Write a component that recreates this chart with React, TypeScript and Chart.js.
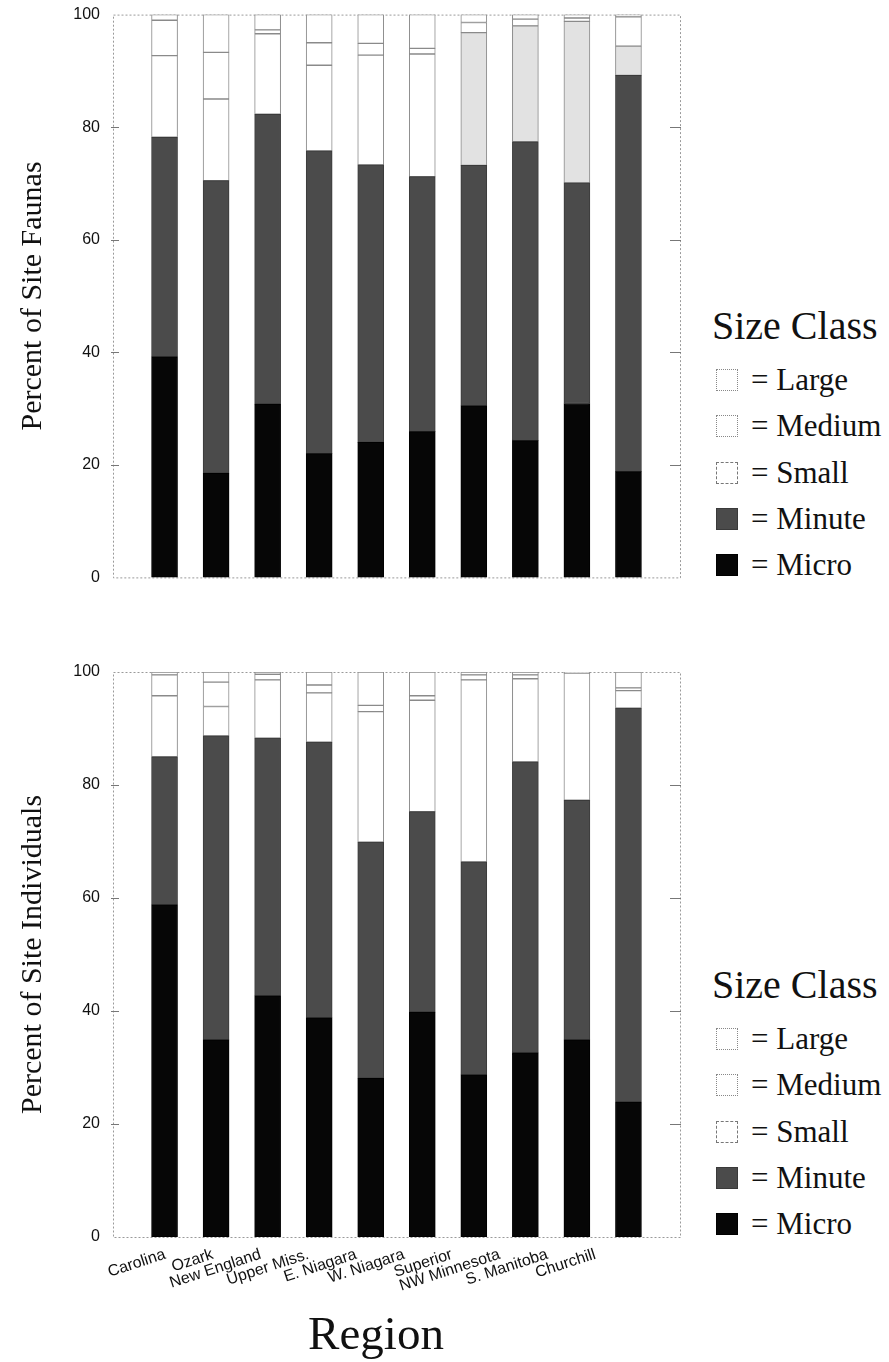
import React, { useEffect, useRef } from 'react';
import { Chart, registerables } from 'chart.js';

Chart.register(...registerables);

// ---- data ----
const regions = ['Carolina', 'Ozark', 'New England', 'Upper Miss.', 'E. Niagara', 'W. Niagara', 'Superior', 'NW Minnesota', 'S. Manitoba', 'Churchill'];
const yTicks = [0, 20, 40, 60, 80, 100];

// Percent of Site Faunas
const faunaMicro = [39.2, 18.5, 30.8, 22.0, 24.0, 25.9, 30.5, 24.3, 30.9, 18.8];
const faunaMinute = [39.0, 52.0, 51.5, 53.8, 49.3, 45.3, 42.7, 53.1, 39.2, 70.4];
const faunaSmall = [14.5, 14.5, 14.3, 15.2, 19.5, 21.8, 23.6, 20.6, 28.7, 5.2];
const faunaMedium = [6.3, 8.3, 0.7, 4.0, 2.1, 1.0, 1.8, 1.2, 0.6, 5.2];
const faunaLarge = [1.0, 6.7, 2.7, 5.0, 5.1, 6.0, 1.4, 0.8, 0.6, 0.4];

// Percent of Site Individuals
const indivMicro = [58.8, 34.9, 42.7, 38.8, 28.1, 39.8, 28.7, 32.6, 34.9, 23.9];
const indivMinute = [26.2, 53.8, 45.6, 48.8, 41.8, 35.5, 37.7, 51.5, 42.4, 69.7];
const indivSmall = [10.8, 5.2, 10.3, 8.7, 23.1, 19.7, 32.2, 14.7, 22.5, 3.1];
const indivMedium = [3.7, 4.3, 1.0, 1.4, 1.1, 0.8, 0.9, 0.7, 0.1, 0.5];
const indivLarge = [0.5, 1.8, 0.4, 2.3, 5.9, 4.2, 0.5, 0.5, 0.1, 2.8];

// ---- styles ----
const SERIF = '"Liberation Serif", "Times New Roman", serif';
const SANS = '"Liberation Sans", Arial, sans-serif';
const faunaSmallFill = ['#fff', '#fff', '#fff', '#fff', '#fff', '#fff', '#e2e2e2', '#e2e2e2', '#e2e2e2', '#e2e2e2'];
const indivSmallFill = ['#fff', '#fff', '#fff', '#fff', '#fff', '#fff', '#fff', '#fff', '#fff', '#fff'];

const framePlugin = {
  id: 'frame',
  beforeDatasetsDraw(chart: any) {
    const { ctx, chartArea } = chart;
    const { left, right, top, bottom } = chartArea;
    const y = chart.scales.y;
    ctx.save();
    ctx.strokeStyle = '#9a9a9a';
    ctx.lineWidth = 1;
    ctx.setLineDash([2, 2]);
    ctx.beginPath();
    ctx.moveTo(left + 0.5, top + 0.5);
    ctx.lineTo(right + 0.5, top + 0.5);
    ctx.lineTo(right + 0.5, bottom + 0.5);
    ctx.lineTo(left + 0.5, bottom + 0.5);
    ctx.closePath();
    ctx.stroke();
    ctx.setLineDash([]);
    ctx.strokeStyle = '#777';
    yTicks.forEach((t) => {
      if (t === 0 || t === 100) return;
      const py = Math.round(y.getPixelForValue(t)) + 0.5;
      ctx.beginPath();
      ctx.moveTo(left - 2, py);
      ctx.lineTo(left + 6, py);
      ctx.moveTo(right - 10, py);
      ctx.lineTo(right + 1, py);
      ctx.stroke();
    });
    ctx.restore();
  },
};

type ChartProps = {
  micro: number[];
  minute: number[];
  small: number[];
  medium: number[];
  large: number[];
  smallFill: string[];
  yTitle: string;
  showX: boolean;
  top: number;
  height: number;
  padTop: number;
  xHeight: number;
};

function StackedChart(p: ChartProps) {
  const ref = useRef<HTMLCanvasElement>(null);
  useEffect(() => {
    const labels = ['', ...regions, ''];
    const pad = (a: any[]) => [null, ...a, null];
    const scales: any = {
      x: {
        stacked: true,
        offset: false,
        grid: { display: false, drawTicks: false, offset: false },
        border: { display: false },
        ticks: { display: false },
        afterFit: (s: any) => {
          s.height = p.showX ? 0 : p.xHeight;
        },
      },
      y: {
        stacked: true,
        min: 0,
        max: 100,
        grid: { display: false, drawTicks: false },
        border: { display: false },
        ticks: { stepSize: 20, padding: 13, color: '#111', font: { family: SANS, size: 16 } },
        title: {
          display: true,
          text: p.yTitle,
          color: '#111',
          font: { family: SERIF, size: 30 },
          padding: { top: 15, bottom: 0 },
        },
        afterFit: (s: any) => {
          s.width = 113;
        },
      },
    };
    if (p.showX) {
      // label axis: region names sit slightly left of the bars, as in the original print
      scales.xl = {
        type: 'linear',
        position: 'bottom',
        offset: false,
        min: -0.088,
        max: 11.774,
        grid: { display: false, drawTicks: false, offset: false },
        border: { display: false },
        afterBuildTicks: (s: any) => {
          s.ticks = regions.map((_, i) => ({ value: i + 1 }));
        },
        ticks: {
          autoSkip: false,
          minRotation: 18,
          maxRotation: 18,
          padding: 8,
          color: '#111',
          font: { family: SANS, size: 16 },
          callback: (_v: any, i: number) => regions[i],
        },
        afterFit: (s: any) => {
          s.height = p.xHeight;
        },
      };
    }
    const chart = new Chart(ref.current as HTMLCanvasElement, {
      type: 'bar',
      data: {
        labels,
        datasets: [
          { label: 'Micro', data: pad(p.micro), backgroundColor: '#060606', borderColor: '#000' },
          { label: 'Minute', data: pad(p.minute), backgroundColor: '#4b4b4b', borderColor: '#3a3a3a' },
          { label: 'Small', data: pad(p.small), backgroundColor: pad(p.smallFill), borderColor: '#8a8a8a' },
          { label: 'Medium', data: pad(p.medium), backgroundColor: '#ffffff', borderColor: '#8a8a8a' },
          { label: 'Large', data: pad(p.large), backgroundColor: '#ffffff', borderColor: '#8a8a8a' },
        ] as any,
      },
      options: {
        responsive: false,
        animation: false,
        layout: { padding: { top: p.padTop, right: 20, left: 0, bottom: 0 } },
        plugins: { legend: { display: false }, tooltip: { enabled: false } },
        datasets: { bar: { barThickness: 26, borderWidth: 1, borderSkipped: false } } as any,
        scales,
      },
      plugins: [framePlugin],
    });
    return () => chart.destroy();
  }, []);
  return (
    <canvas
      ref={ref}
      width={700}
      height={p.height}
      style={{ position: 'absolute', left: 0, top: p.top, width: 700, height: p.height }}
    />
  );
}

const legendItems = [
  { label: 'Large', box: { background: '#fff', border: '1px dotted #888' } },
  { label: 'Medium', box: { background: '#fff', border: '1px dotted #888' } },
  { label: 'Small', box: { background: '#fff', border: '1px dashed #777' } },
  { label: 'Minute', box: { background: '#4b4b4b', border: '1px solid #3a3a3a' } },
  { label: 'Micro', box: { background: '#060606', border: '1px solid #000' } },
];

function Legend({ titleY }: { titleY: number }) {
  return (
    <div style={{ position: 'absolute', left: 0, top: 0, fontFamily: SERIF, color: '#111' }}>
      <div
        style={{
          position: 'absolute',
          left: 712,
          top: titleY - 24,
          height: 48,
          lineHeight: '48px',
          fontSize: 40,
          whiteSpace: 'nowrap',
        }}
      >
        Size Class
      </div>
      {legendItems.map((it, i) => {
        const cy = titleY + 54 + i * 46.3;
        return (
          <div
            key={it.label}
            style={{
              position: 'absolute',
              left: 716,
              top: cy - 20,
              height: 40,
              display: 'flex',
              alignItems: 'center',
              whiteSpace: 'nowrap',
            }}
          >
            <span style={{ display: 'inline-block', width: 22, height: 22, boxSizing: 'border-box', ...it.box }} />
            <span style={{ fontSize: 31, marginLeft: 13, lineHeight: '40px' }}>= {it.label}</span>
          </div>
        );
      })}
    </div>
  );
}

export default function App() {
  return (
    <div style={{ position: 'absolute', left: 0, top: 0, width: 889, height: 1362, background: '#fff', overflow: 'hidden' }}>
      <StackedChart
        micro={faunaMicro}
        minute={faunaMinute}
        small={faunaSmall}
        medium={faunaMedium}
        large={faunaLarge}
        smallFill={faunaSmallFill}
        yTitle="Percent of Site Faunas"
        showX={false}
        top={-8}
        height={608}
        padTop={22}
        xHeight={22}
      />
      <StackedChart
        micro={indivMicro}
        minute={indivMinute}
        small={indivSmall}
        medium={indivMedium}
        large={indivLarge}
        smallFill={indivSmallFill}
        yTitle="Percent of Site Individuals"
        showX={true}
        top={640}
        height={722}
        padTop={32}
        xHeight={125}
      />
      <Legend titleY={326} />
      <Legend titleY={985} />
      <div
        style={{
          position: 'absolute',
          left: 376 - 80,
          width: 160,
          top: 1310,
          height: 47,
          lineHeight: '47px',
          textAlign: 'center',
          fontFamily: SERIF,
          fontSize: 47,
          color: '#111',
        }}
      >
        Region
      </div>
    </div>
  );
}
